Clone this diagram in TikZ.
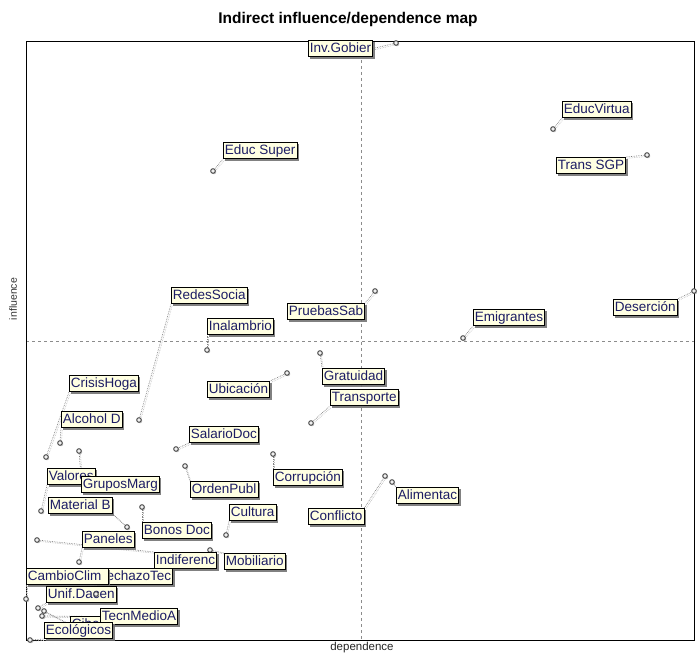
\documentclass[tikz,border=0pt]{standalone}
\usepackage{fontspec}
\setmainfont{Liberation Sans}
\usetikzlibrary{shadows}
\definecolor{lblfill}{RGB}{255,255,226}
\definecolor{lbltext}{RGB}{28,28,100}
\pgfdeclarelayer{fg}
\pgfsetlayers{main,fg}
\tikzset{
  lbl/.style={draw=black, line width=0.8pt, fill=lblfill, text=lbltext,
    font=\fontsize{13.5}{14}\selectfont, inner xsep=1.5pt, inner ysep=1.6pt,
    text height=10.2pt, text depth=2.8pt, anchor=north west,
    drop shadow={shadow xshift=2pt, shadow yshift=-2pt, fill=black!55, opacity=0.9}},
  ptm/.style={circle, draw=black!75, fill=black!6, line width=0.9pt, inner sep=0pt,
    minimum size=4.6pt, drop shadow={shadow xshift=1pt, shadow yshift=-1pt, fill=black!45}},
  lnk/.style={densely dotted, black!50, line width=0.7pt},
  lnks/.style={densely dotted, black!25, line width=0.7pt},
  guide/.style={dashed, black!45, line width=0.5pt},
}
\newcommand{\lk}[2]{\draw[lnks,transform canvas={shift={(1.3pt,-1.3pt)}}] (#1) -- (#2);\draw[lnk] (#1) -- (#2);}
\begin{document}
\begin{tikzpicture}[x=1pt,y=-1pt]
\useasboundingbox (0,0) rectangle (697,655);
% title and axis labels
\node[font=\fontsize{15.5}{16}\selectfont\bfseries] (title) at (348,19) {Indirect influence/dependence map};
\node[font=\fontsize{10.5}{11}\selectfont, text=black!80, rotate=90] (ylab) at (13,299) {influence};
\node[font=\fontsize{11.5}{12}\selectfont, text=black!85] (xlab) at (362,648) {dependence};
% guides and frame
\coordinate (gt) at (361,42); \coordinate (gb) at (361,640);
\coordinate (gl) at (26,341); \coordinate (gr) at (694,341);
\draw[guide] (gt) -- (gb);
\draw[guide] (gl) -- (gr);
\draw[line width=1pt] (26,42) rectangle (694,640);
% labels (foreground layer)
\begin{pgfonlayer}{fg}
\node[lbl] (lInv) at (308,40) {Inv.Gobier};
\node[lbl] (lEV) at (562,101) {EducVirtua};
\node[lbl] (lTS) at (556,157) {Trans SGP};
\node[lbl] (lES) at (223,142) {Educ Super};
\node[lbl] (lRS) at (171,287) {RedesSocia};
\node[lbl] (lIn) at (207,318) {Inalambrio};
\node[lbl] (lPS) at (287,303) {PruebasSab};
\node[lbl] (lEm) at (473,309) {Emigrantes};
\node[lbl] (lDe) at (613,299) {Deserción};
\node[lbl] (lCH) at (69,375) {CrisisHoga};
\node[lbl] (lAD) at (61,411) {Alcohol D};
\node[lbl] (lUb) at (207,381) {Ubicación};
\node[lbl] (lGr) at (322,368) {Gratuidad};
\node[lbl] (lTr) at (330,389) {Transporte};
\node[lbl] (lSD) at (189,426) {SalarioDoc};
\node[lbl] (lCo) at (273,469) {Corrupción};
\node[lbl] (lOP) at (190,481) {OrdenPubl};
\node[lbl] (lCu) at (229,504) {Cultura};
\node[lbl] (lBD) at (142,522) {Bonos Doc};
\node[lbl] (lMo) at (224,553) {Mobiliario};
\node[lbl] (lId) at (154,552) {Indiferenc};
\node[lbl] (lCf) at (308,508) {Conflicto};
\node[lbl] (lAl) at (396,487) {Alimentac};
\node[lbl] (lVa) at (47,468) {Valores};
\node[lbl] (lGM) at (81,476) {GruposMarg};
\node[lbl] (lMB) at (48,497) {Material B};
\node[lbl] (lPa) at (82,531) {Paneles};
\node[lbl] (lRT) at (95,568) {RechazoTec};
\node[lbl, text width=79pt, align=left] (lCC) at (26,568) {CambioClim};
\node[lbl] (lUD) at (46,586) {Unif.Dacen};
\node[lbl] (lCi) at (70,616) {Ciber};
\node[lbl] (lTM) at (100,608) {TecnMedioA};
\node[lbl] (lEc) at (44,622) {Ecológicos};
\end{pgfonlayer}
% point positions
\coordinate (pInv) at (396,43);
\coordinate (pEV) at (553,129);
\coordinate (pTS) at (647,155);
\coordinate (pES) at (213,171);
\coordinate (pRS) at (139,420);
\coordinate (pIn) at (207,350);
\coordinate (pPS) at (375,291);
\coordinate (pEm) at (463,338);
\coordinate (pDe) at (694,291);
\coordinate (pCH) at (46,457);
\coordinate (pAD) at (60,443);
\coordinate (pUb) at (287,373);
\coordinate (pGr) at (320,353);
\coordinate (pTr) at (311,423);
\coordinate (pSD) at (176,449);
\coordinate (pCo) at (273,454);
\coordinate (pOP) at (185,466);
\coordinate (pCu) at (226,535);
\coordinate (pBD) at (142,507);
\coordinate (pMo) at (210,550);
\coordinate (pId) at (37,540);
\coordinate (pCf) at (385,476);
\coordinate (pAl) at (392,482);
\coordinate (pVa) at (41,511);
\coordinate (pGM) at (79,451);
\coordinate (pMB) at (127,527);
\coordinate (pPa) at (79,562);
\coordinate (pCC) at (26,599);
\coordinate (pRT) at (96,594);
\coordinate (pUD) at (38,608);
\coordinate (pCi) at (44,611);
\coordinate (pTM) at (42,616);
\coordinate (pEc) at (30,640);
% links
\lk{pInv}{lInv.east}
\lk{pEV}{lEV.south west}
\lk{pTS}{lTS.north east}
\lk{pES}{lES.south west}
\lk{pRS}{lRS.south west}
\lk{pIn}{lIn.south west}
\lk{pPS}{lPS.north east}
\lk{pEm}{lEm.south west}
\lk{pDe}{lDe.north east}
\lk{pCH}{lCH.south west}
\lk{pAD}{lAD.south west}
\lk{pUb}{lUb.north east}
\lk{pGr}{lGr.north west}
\lk{pTr}{lTr.south west}
\lk{pSD}{lSD.south west}
\lk{pCo}{lCo.north west}
\lk{pOP}{lOP.north west}
\lk{pCu}{lCu.south west}
\lk{pBD}{lBD.north west}
\lk{pMo}{lMo.north west}
\lk{pId}{lId.north west}
\lk{pCf}{lCf.north east}
\lk{pAl}{lAl.north west}
\lk{pVa}{lVa.south west}
\lk{pGM}{lGM.north west}
\lk{pMB}{lMB.south east}
\lk{pPa}{lPa.south west}
\lk{pCC}{lCC.south west}
\lk{pRT}{lRT.south west}
\lk{pUD}{lUD.south west}
\lk{pCi}{lCi.west}
\lk{pTM}{lTM.west}
\lk{pEc}{lEc.south west}
% point markers
\foreach \p in {pInv,pEV,pTS,pES,pRS,pIn,pPS,pEm,pDe,pCH,pAD,pUb,pGr,pTr,pSD,pCo,pOP,pCu,pBD,pMo,pId,pCf,pAl,pVa,pGM,pMB,pPa,pCC,pUD,pCi,pTM,pEc}
  \node[ptm] (m\p) at (\p) {};
\begin{pgfonlayer}{fg}
\node[ptm] (mpRT) at (pRT) {};
\end{pgfonlayer}
\end{tikzpicture}
\end{document}
